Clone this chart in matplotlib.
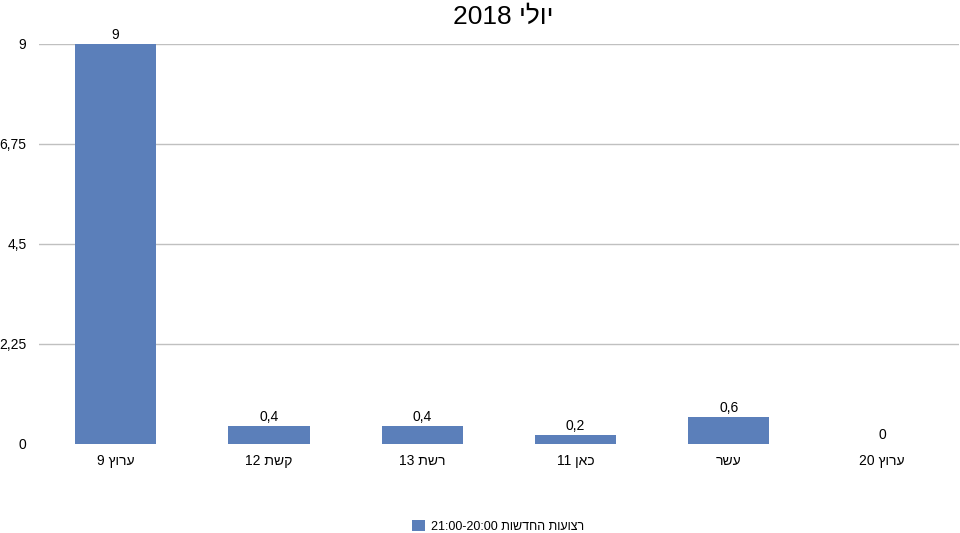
import matplotlib
matplotlib.use('Agg')
from matplotlib import pyplot as plt
import numpy as np

plt.rcParams['font.family'] = ['Liberation Sans', 'DejaVu Sans']


def rtl(s):
    # simple visual reordering for a right-to-left line
    words = s.split(' ')[::-1]
    out = []
    for w in words:
        if any('\u0590' <= c <= '\u05ff' for c in w):
            out.append(w[::-1])
        else:
            out.append(w)
    return ' '.join(out)


title = 'יולי 2018'
series_name = 'רצועות החדשות 21:00-20:00'
channels = ['ערוץ 9', 'קשת 12', 'רשת 13', 'כאן 11', 'עשר', 'ערוץ 20']
values = [9, 0.4, 0.4, 0.2, 0.6, 0]
yticks = [0, 2.25, 4.5, 6.75, 9]

bar_color = '#5b7fba'

fig = plt.figure(figsize=(9.6, 5.33), dpi=100)
ax = fig.add_axes([0.0406, 0.167, 0.958, 0.7505])

x = np.arange(len(channels))
bars = ax.bar(x, values, width=0.53, color=bar_color, label=rtl(series_name), zorder=2)

for xi, v in zip(x, values):
    ax.annotate(('%g' % v).replace('.', ','), (xi, v), xytext=(0, 1.5),
                textcoords='offset points', ha='center', va='bottom', fontsize=10)

ax.set_xlim(-0.5, len(channels) - 0.5)
ax.set_ylim(0, 9)
ax.set_xticks(x)
ax.set_xticklabels([rtl(c) for c in channels], fontsize=10)
ax.set_yticks(yticks)
ax.set_yticklabels([('%g' % t).replace('.', ',') for t in yticks], fontsize=10)
ax.tick_params(axis='x', length=0, pad=7)
ax.tick_params(axis='y', length=0, pad=9)
for sp in ax.spines.values():
    sp.set_visible(False)
ax.yaxis.grid(True, color='#c0c0c0', linewidth=1, zorder=0)
ax.get_ygridlines()[0].set_visible(False)
ax.set_axisbelow(True)

fig.text(0.524, 0.968, rtl(title), fontsize=19, ha='center', va='center')

fig.legend(loc='center', bbox_to_anchor=(0.519, 0.012), frameon=False, fontsize=9,
           handlelength=1.0, handleheight=1.0, handletextpad=0.5)

fig.savefig('out.png', dpi=100)
